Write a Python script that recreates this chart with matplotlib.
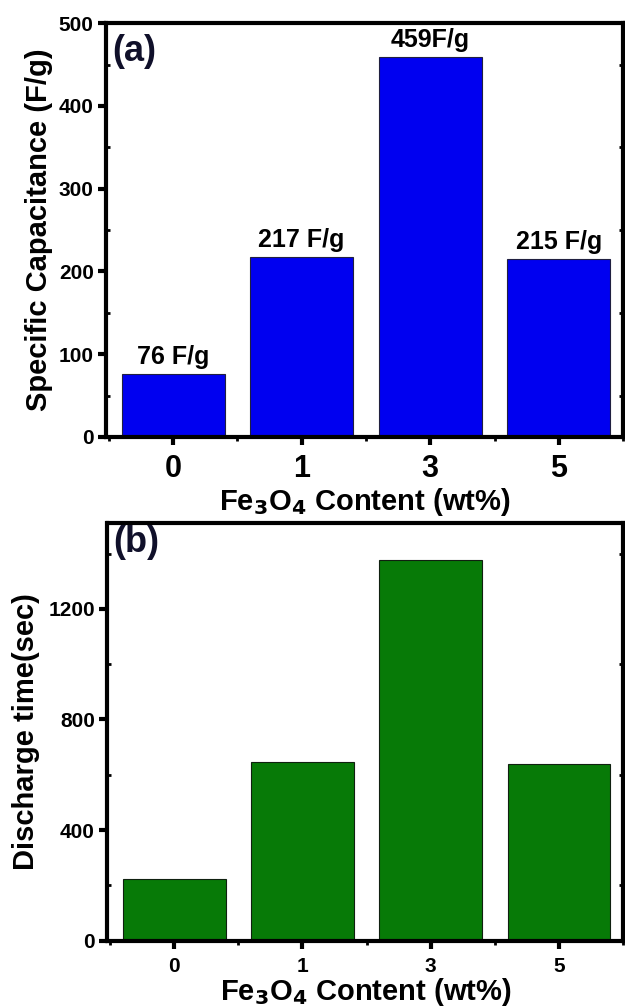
import matplotlib
matplotlib.use('Agg')
import matplotlib.pyplot as plt
from matplotlib.ticker import MultipleLocator

plt.rcParams['font.family'] = ['Liberation Sans', 'DejaVu Sans']
plt.rcParams['font.weight'] = 'bold'
plt.rcParams['mathtext.default'] = 'regular'

# data
contents = ['0', '1', '3', '5']
capacitance = [76, 217, 459, 215]
cap_labels = ['76 F/g', '217 F/g', '459F/g', '215 F/g']
discharge = [222, 646, 1378, 640]

fig = plt.figure(figsize=(6.25, 10.08), dpi=100)
ax1 = fig.add_axes([0.170, 0.5665, 0.827, 0.4105])
ax2 = fig.add_axes([0.172, 0.0668, 0.825, 0.4142])

xs = list(range(len(contents)))


def style(ax, xfs):
    for s in ax.spines.values():
        s.set_linewidth(3.0)
    ax.set_xlim(-0.52, 3.5)
    ax.set_xticks(xs)
    ax.set_xticklabels(contents, fontsize=xfs, fontweight='bold')
    ax.xaxis.set_minor_locator(MultipleLocator(0.5))
    ax.tick_params(axis='x', which='major', direction='out', length=6, width=3, pad=6)
    ax.tick_params(axis='x', which='minor', direction='out', length=3, width=2)
    ax.tick_params(axis='y', which='major', direction='out', length=6, width=3,
                   labelsize=15, pad=3)
    ax.tick_params(axis='y', which='minor', direction='in', length=3, width=2)
    ax.tick_params(axis='y', which='both', right=True)
    for t in ax.get_yticklabels():
        t.set_fontweight('bold')


# (a)
ax1.bar(xs, capacitance, width=0.8, color='#0000f0', edgecolor='#202040', linewidth=0.8)
ax1.set_ylim(0, 500)
ax1.yaxis.set_major_locator(MultipleLocator(100))
ax1.yaxis.set_minor_locator(MultipleLocator(50))
style(ax1, 22)
for x, v, lab in zip(xs, capacitance, cap_labels):
    ax1.text(x, v + 6, lab, ha='center', va='bottom', fontsize=18, fontweight='bold')
ax1.text(0.012, 0.975, '(a)', transform=ax1.transAxes, ha='left', va='top',
         fontsize=26, fontweight='bold', color='#10102a')
ax1.set_ylabel('Specific Capacitance (F/g)', fontsize=21, fontweight='bold', labelpad=4)
ax1.set_xlabel('Fe$_\\mathbf{3}$O$_\\mathbf{4}$ Content (wt%)', fontsize=21,
               fontweight='bold', labelpad=2)

# (b)
ax2.bar(xs, discharge, width=0.8, color='#077a07', edgecolor='#102010', linewidth=0.8)
ax2.set_ylim(0, 1510)
ax2.yaxis.set_major_locator(MultipleLocator(400))
ax2.yaxis.set_minor_locator(MultipleLocator(200))
style(ax2, 15)
ax2.text(0.012, 0.995, '(b)', transform=ax2.transAxes, ha='left', va='top',
         fontsize=26, fontweight='bold', color='#10102a')
ax2.set_ylabel('Discharge time(sec)', fontsize=21, fontweight='bold', labelpad=6)
ax2.set_xlabel('Fe$_\\mathbf{3}$O$_\\mathbf{4}$ Content (wt%)', fontsize=21,
               fontweight='bold', labelpad=0)

fig.savefig('out.png', dpi=100)
